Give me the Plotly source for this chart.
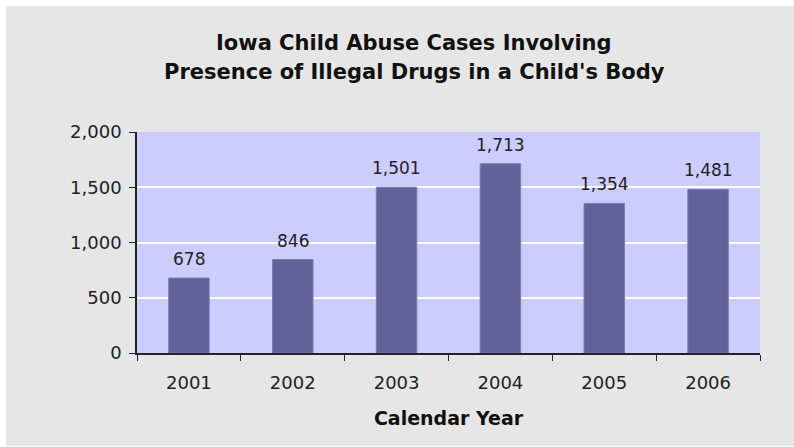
import plotly.graph_objects as go

years = ["2001", "2002", "2003", "2004", "2005", "2006"]
cases = [678, 846, 1501, 1713, 1354, 1481]
y_ticks = [0, 500, 1000, 1500, 2000]
title_lines = ["Iowa Child Abuse Cases Involving",
               "Presence of Illegal Drugs in a Child's Body"]

W, H = 794, 447
L, R, T, B = 137, 34, 132, 94
pw, ph = W - L - R, H - T - B
FONT = "DejaVu Sans"


def px_x(p):
    return (p - L) / pw


def px_y(p):
    return (H - B - p) / ph


fig = go.Figure(
    go.Bar(
        x=years,
        y=cases,
        width=0.39,
        marker=dict(color="#62619a", line=dict(color="#7c7bb6", width=1)),
        hoverinfo="x+y",
    )
)

# value labels above each bar (category axis positions are serial indices)
annotations = [
    dict(x=i, y=v, xref="x", yref="y", text=f"{v:,}", showarrow=False,
         xanchor="center", yanchor="bottom", yshift=7,
         font=dict(family=FONT, size=17, color="#222222"))
    for i, v in enumerate(cases)
]

# two-line chart heading
for line, cy in zip(title_lines, [43, 72]):
    annotations.append(
        dict(x=px_x(414), y=px_y(cy), xref="paper", yref="paper", text=line,
             showarrow=False, xanchor="center", yanchor="middle",
             font=dict(family=FONT, size=21, color="#111111", weight="bold"))
    )

fig.update_layout(
    width=W,
    height=H,
    margin=dict(l=L, r=R, t=T, b=B),
    paper_bgcolor="white",
    plot_bgcolor="rgba(0,0,0,0)",
    showlegend=False,
    annotations=annotations,
    shapes=[
        dict(type="rect", xref="paper", yref="paper", layer="below",
             x0=px_x(6), x1=px_x(W + 2), y0=px_y(446), y1=px_y(6),
             fillcolor="#e6e6e6", line=dict(width=0)),
        dict(type="rect", xref="paper", yref="paper", layer="below",
             x0=0, x1=1, y0=0, y1=1,
             fillcolor="#ccccff", line=dict(width=0)),
    ],
    font=dict(family=FONT, size=18, color="#222222"),
)

fig.update_xaxes(
    type="category",
    range=[-0.5, 5.5],
    showline=True,
    linecolor="#222222",
    linewidth=1.5,
    ticks="outside",
    tickson="boundaries",
    ticklen=6,
    tickcolor="#222222",
    ticklabelstandoff=13,
    tickfont=dict(family=FONT, size=18, color="#222222"),
    showgrid=False,
    title=dict(text="Calendar Year", standoff=19,
               font=dict(family=FONT, size=19, color="#111111", weight="bold")),
)

fig.update_yaxes(
    range=[0, 2000],
    tickvals=y_ticks,
    tickformat=",",
    showline=True,
    linecolor="#222222",
    linewidth=1.5,
    ticks="outside",
    ticklen=6,
    tickcolor="#222222",
    ticklabelstandoff=4,
    showgrid=True,
    gridcolor="white",
    gridwidth=1.5,
    zeroline=False,
    tickfont=dict(family=FONT, size=18, color="#222222"),
)

fig.write_html("out.html")
